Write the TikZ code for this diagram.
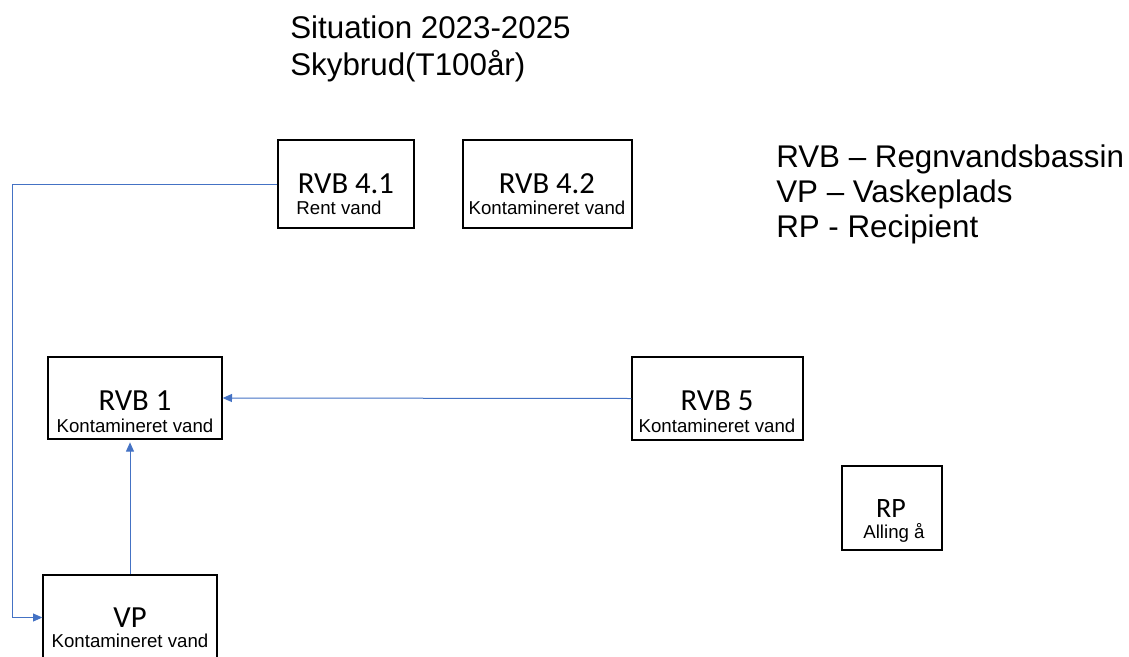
\documentclass[tikz,border=0pt]{standalone}
\usepackage{fontspec}
\setmainfont{Liberation Sans}
\newfontfamily\headfont{Carlito}
\usetikzlibrary{arrows.meta}
\definecolor{flowblue}{HTML}{4472C4}
\tikzset{
  box/.style={draw, line width=1pt, inner sep=0pt},
  head/.style={anchor=base, inner sep=0pt, text depth=0pt, font=\headfont\fontsize{23}{27}\selectfont},
  sub/.style={anchor=base, inner sep=0pt, text height=10pt, font=\fontsize{14}{17}\selectfont},
  big/.style={anchor=base west, inner sep=0pt, font=\fontsize{23.5}{28}\selectfont},
  flow/.style={draw=flowblue, line width=0.75pt, -{Triangle[length=7pt,width=6pt]}}
}
\begin{document}
\begin{tikzpicture}[x=0.75pt, y=-0.75pt]
	  \clip (0,0) rectangle (1129,657);
	  % heading
	  \node[big] (sit) at (290,38) {Situation 2023-2025};
	  \node[big] (sky) at (290,75) {Skybrud(T100år)};
	  % legend
	  \node[big] (lrvb) at (776,167) {RVB – Regnvandsbassin};
	  \node[big] (lvp) at (776,202) {VP – Vaskeplads};
	  \node[big] (lrp) at (776,237) {RP - Recipient};
	  % boxes
	  \node[box, minimum width=102pt, minimum height=66pt] (rvb41) at (346,184) {};
	  \node[box, minimum width=126.75pt, minimum height=66pt] (rvb42) at (547.5,184) {};
	  \node[box, minimum width=130.5pt, minimum height=61.5pt] (rvb1) at (135,398) {};
	  \node[box, minimum width=128.25pt, minimum height=62.25pt] (rvb5) at (717.5,398.5) {};
	  \node[box, minimum width=75pt, minimum height=63pt] (rp) at (892,508) {};
	  \node[box, minimum width=130.5pt, minimum height=63.75pt] (vp) at (130,617.5) {};
	  % box texts
	  \node[head] (rvb41h) at (346,193) {RVB 4.1};
	  \node[sub] (rvb41s) at (339,214) {Rent vand};
	  \node[head] (rvb42h) at (547,193) {RVB 4.2};
	  \node[sub] (rvb42s) at (547,214) {Kontamineret vand};
	  \node[head] (rvb1h) at (135,410) {RVB 1};
	  \node[sub] (rvb1s) at (135,432) {Kontamineret vand};
	  \node[head] (rvb5h) at (717,410) {RVB 5};
	  \node[sub] (rvb5s) at (717,432) {Kontamineret vand};
	  \node[head, font=\headfont\fontsize{21}{25}\selectfont] (rph) at (891,517) {RP};
	  \node[sub] (rps) at (894,538) {Alling å};
	  \node[head] (vph) at (130,627) {VP};
	  \node[sub] (vps) at (130,647) {Kontamineret vand};
	  % flows
	  \coordinate (bend) at (12,184);
	  \draw[flow] (rvb41.west) -- (bend) |- (vp.west);
	  \draw[flow, shorten >=2pt] (vp.north) -- (vp.north |- rvb1.south);
	  \draw[flow] (rvb5.west) -- (rvb1.east);
	\end{tikzpicture}
\end{document}
